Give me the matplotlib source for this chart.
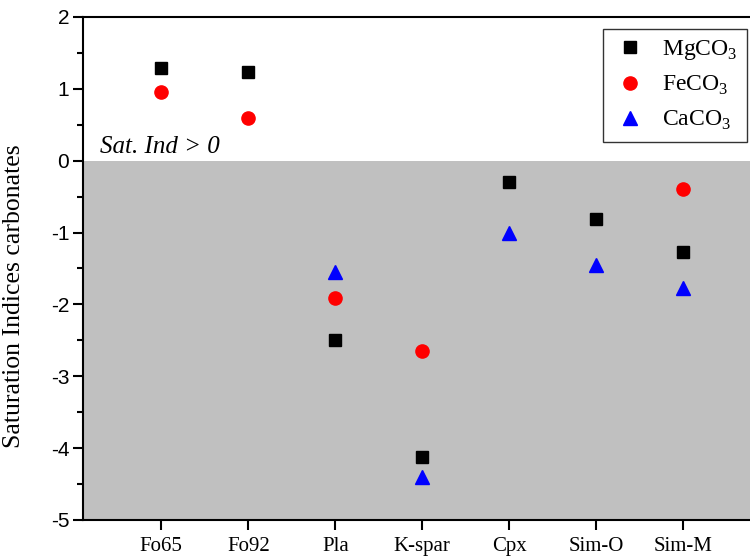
import matplotlib
matplotlib.use("Agg")
from matplotlib import pyplot as plt
from matplotlib.ticker import MultipleLocator

samples = ['Fo65', 'Fo92', 'Pla', 'K-spar', 'Cpx', 'Sim-O', 'Sim-M']
mgco3 = [1.29, 1.23, -2.49, -4.12, -0.30, -0.81, -1.27]
feco3 = [0.96, 0.59, -1.91, -2.65, None, None, -0.39]
caco3 = [None, None, -1.55, -4.40, -1.00, -1.45, -1.77]

serif = 'Liberation Serif'
sans = 'Liberation Sans'

plt.rcParams['axes.unicode_minus'] = False
plt.rcParams['mathtext.fontset'] = 'custom'
plt.rcParams['mathtext.rm'] = serif

fig = plt.figure(figsize=(7.5, 5.59), dpi=100)
ax = fig.add_axes([0.1107, 0.0698, 0.893, 0.8998])

xs = list(range(1, len(samples) + 1))


def pts(vals):
    px = [x for x, v in zip(xs, vals) if v is not None]
    py = [v for v in vals if v is not None]
    return px, py


ax.axhspan(-5, 0, color='#c0c0c0', zorder=0, lw=0)

x, y = pts(mgco3)
ax.plot(x, y, 's', color='black', ms=8, ls='none', label=r'MgCO$_\mathregular{3}$', zorder=3)
x, y = pts(feco3)
ax.plot(x, y, 'o', color='red', ms=9.5, ls='none', label=r'FeCO$_\mathregular{3}$', zorder=3)
x, y = pts(caco3)
ax.plot(x, y, '^', color='blue', ms=10, ls='none', label=r'CaCO$_\mathregular{3}$', zorder=3)

ax.set_xlim(0.1, 7.8)
ax.set_ylim(-5, 2)
ax.set_xticks(xs)
ax.set_xticklabels(samples, fontfamily=serif, fontsize=15)
ax.yaxis.set_major_locator(MultipleLocator(1))
ax.yaxis.set_minor_locator(MultipleLocator(0.5))
for lab in ax.get_yticklabels():
    lab.set_fontfamily(sans)
    lab.set_fontsize(15)

ax.tick_params(axis='both', which='major', direction='out', length=7, width=1.5, pad=3)
ax.tick_params(axis='y', which='minor', direction='out', length=4, width=1.5)
ax.tick_params(axis='x', pad=5)

for s in ['left', 'bottom', 'top', 'right']:
    ax.spines[s].set_linewidth(1.5)

ax.set_ylabel('Saturation Indices carbonates', fontfamily=serif, fontsize=18.5)
ax.yaxis.set_label_coords(-0.087, 0.445)

ax.text(0.3, 0.04, 'Sat. Ind > 0', fontfamily=serif, fontstyle='italic',
        fontsize=18, va='bottom', ha='left')

leg = ax.legend(loc='upper right', bbox_to_anchor=(747 / 750, 1 - 29 / 559),
                bbox_transform=fig.transFigure, frameon=True, fancybox=False,
                edgecolor='black', prop={'family': serif, 'size': 17},
                handletextpad=0.6, borderpad=0.4, labelspacing=0.5, handlelength=1.5,
                borderaxespad=0)
leg.get_frame().set_linewidth(1.0)

fig.savefig('out.png', dpi=100)
